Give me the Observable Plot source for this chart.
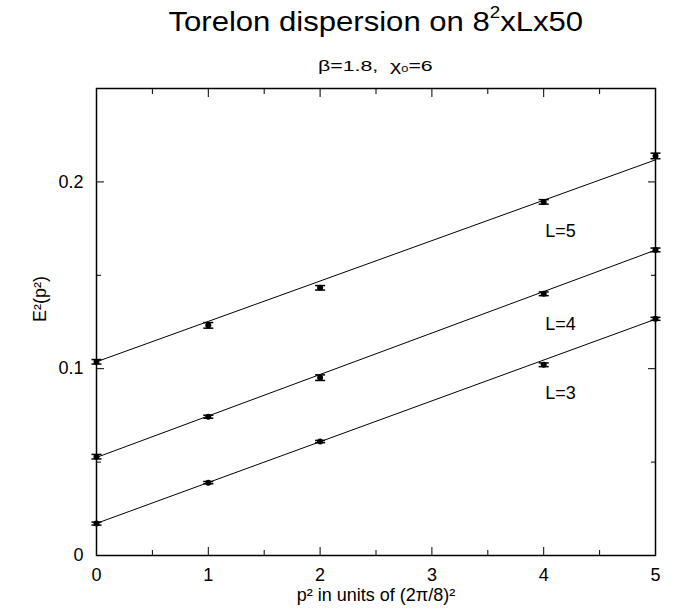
<!DOCTYPE html>
<html>
<head>
<meta charset="utf-8">
<script src="https://cdn.jsdelivr.net/npm/d3@7"></script>
<script src="https://cdn.jsdelivr.net/npm/@observablehq/plot@0.6"></script>
<style>
  html, body { margin: 0; padding: 0; background: #fff; }
  body { font-family: "Liberation Sans", Arial, Helvetica, sans-serif; color: #000; }
  #wrap { width: 683px; height: 616px; overflow: hidden; }
  .ttl { box-sizing: border-box; padding: 0 28px 0 96px; text-align: center; white-space: nowrap; }
  .ttl span { display: inline-block; transform-origin: center; }
  #t1 { font-size: 28px; height: 40px; line-height: 28px; padding-top: 8px; }
  #t1 span { transform: scaleX(1.11); }
  #t2 { font-size: 15px; height: 38px; line-height: 15px; padding-top: 18px; }
  #t2 span { transform: scaleX(1.42); }
  sup { font-size: 60%; line-height: 0; vertical-align: 0.75em; }
  sub { font-size: 60%; line-height: 0; vertical-align: -0.15em; }
  svg { display: block; }
</style>
</head>
<body>
<div id="wrap">
  <div class="ttl" id="t1"><span>Torelon dispersion on 8<sup>2</sup>xLx50</span></div>
  <div class="ttl" id="t2"><span>β=1.8,&nbsp; χ<sub>0</sub>=6</span></div>
  <div id="chart"></div>
</div>
<script>
// ---- data ----
const momenta = [0, 1, 2, 4, 5];            // p^2 in units of (2π/8)^2
const seriesNames = ["L=3", "L=4", "L=5"];
const energyL3 = [0.0171, 0.0390, 0.0610, 0.1021, 0.1267];
const errorL3  = [0.0008, 0.0006, 0.0006, 0.0010, 0.0008];
const energyL4 = [0.0529, 0.0743, 0.0952, 0.1401, 0.1636];
const errorL4  = [0.0012, 0.0008, 0.0015, 0.0010, 0.0010];
const energyL5 = [0.1037, 0.1232, 0.1433, 0.1893, 0.2139];
const errorL5  = [0.0012, 0.0015, 0.0012, 0.0012, 0.0015];
// linear fits (values at the two ends p^2 = 0 and p^2 = 5)
const fitP   = [0, 5];
const fitL3  = [0.0172, 0.1265];
const fitL4  = [0.0525, 0.1635];
const fitL5  = [0.1037, 0.2118];
// in-plot labels
const labelP = [4.15, 4.15, 4.15];
const labelE = [0.0866, 0.1240, 0.1738];
// axes
const xMajor = [0, 1, 2, 3, 4, 5];
const xMinor = [0.5, 1.5, 2.5, 3.5, 4.5];
const yMajor = [0, 0.1, 0.2];
const yMinor = [0.05, 0.15];
const yTickLabels = ["0", "0.1", "0.2"];
const xTitle = "p² in units of (2π/8)²";
const yTitle = "E²(p²)";

// ---- build tables ----
const energies = [energyL3, energyL4, energyL5];
const errors = [errorL3, errorL4, errorL5];
const fits = [fitL3, fitL4, fitL5];
const points = [];
seriesNames.forEach((name, s) => momenta.forEach((p, i) =>
  points.push({series: name, p, e: energies[s][i], err: errors[s][i]})));
const fitRows = [];
seriesNames.forEach((name, s) => fitP.forEach((p, i) =>
  fitRows.push({series: name, p, e: fits[s][i]})));
const labels = seriesNames.map((name, s) => ({name, p: labelP[s], e: labelE[s]}));
const capHalf = 0.045;

const chart = Plot.plot({
  width: 683,
  height: 538,
  marginLeft: 96,
  marginRight: 28,
  marginTop: 10,
  marginBottom: 61,
  x: {domain: [0, 5]},
  y: {domain: [0, 0.25]},
  style: {fontFamily: "'Liberation Sans', Arial, Helvetica, sans-serif", fontSize: "18px", color: "#000", background: "#fff", overflow: "visible"},
  marks: [
    // inward ticks on all four sides
    Plot.axisX(xMajor, {anchor: "bottom", tickSize: -8, text: null, label: null}),
    Plot.axisX(xMinor, {anchor: "bottom", tickSize: -5, text: null, label: null}),
    Plot.axisX(xMajor, {anchor: "top", tickSize: -8, text: null, label: null}),
    Plot.axisX(xMinor, {anchor: "top", tickSize: -5, text: null, label: null}),
    Plot.axisY(yMajor, {anchor: "left", tickSize: -8, text: null, label: null}),
    Plot.axisY(yMinor, {anchor: "left", tickSize: -5, text: null, label: null}),
    Plot.axisY(yMajor, {anchor: "right", tickSize: -8, text: null, label: null}),
    Plot.axisY(yMinor, {anchor: "right", tickSize: -5, text: null, label: null}),
    // tick labels
    Plot.axisX(xMajor, {anchor: "bottom", tickSize: 0, tickPadding: 13, label: null, fontSize: 18, tickFormat: d => String(d)}),
    Plot.axisY(yMajor, {anchor: "left", tickSize: 0, tickPadding: 13, label: null, fontSize: 18, tickFormat: d => yTickLabels[yMajor.indexOf(d)]}),
    Plot.frame({stroke: "#000", strokeWidth: 1.5}),
    // fit lines
    Plot.line(fitRows, {x: "p", y: "e", z: "series", stroke: "#000", strokeWidth: 1}),
    // error bars
    Plot.ruleX(points, {x: "p", y1: d => d.e - d.err, y2: d => d.e + d.err, stroke: "#000", strokeWidth: 1.5}),
    Plot.link(points, {x1: d => d.p - capHalf, x2: d => d.p + capHalf, y1: d => d.e - d.err, y2: d => d.e - d.err, stroke: "#000", strokeWidth: 1.5}),
    Plot.link(points, {x1: d => d.p - capHalf, x2: d => d.p + capHalf, y1: d => d.e + d.err, y2: d => d.e + d.err, stroke: "#000", strokeWidth: 1.5}),
    Plot.dot(points, {x: "p", y: "e", r: 3, fill: "#000", stroke: "none"}),
    // series labels
    Plot.text(labels, {x: "p", y: "e", text: "name", fontSize: 18, fill: "#000", ariaLabel: "series-label"}),
    // axis titles
    Plot.text([yTitle], {frameAnchor: "left", dx: -56, rotate: -90, text: d => d, fontSize: 18, fill: "#000", ariaLabel: "y-title"}),
    Plot.text([xTitle], {frameAnchor: "bottom", dy: 45, text: d => d, fontSize: 18, fill: "#000", ariaLabel: "x-title"})
  ]
});
document.getElementById("chart").appendChild(chart);

// widen glyphs slightly to match the reference's broad lettering
function stretch(label, factor) {
  d3.select(chart).selectAll(`g[aria-label="${label}"] text`).each(function() {
    const len = this.getComputedTextLength();
    d3.select(this).attr("lengthAdjust", "spacingAndGlyphs").attr("textLength", len * factor);
  });
}
stretch("x-title", 1.2);
stretch("series-label", 1.1);
</script>
</body>
</html>
